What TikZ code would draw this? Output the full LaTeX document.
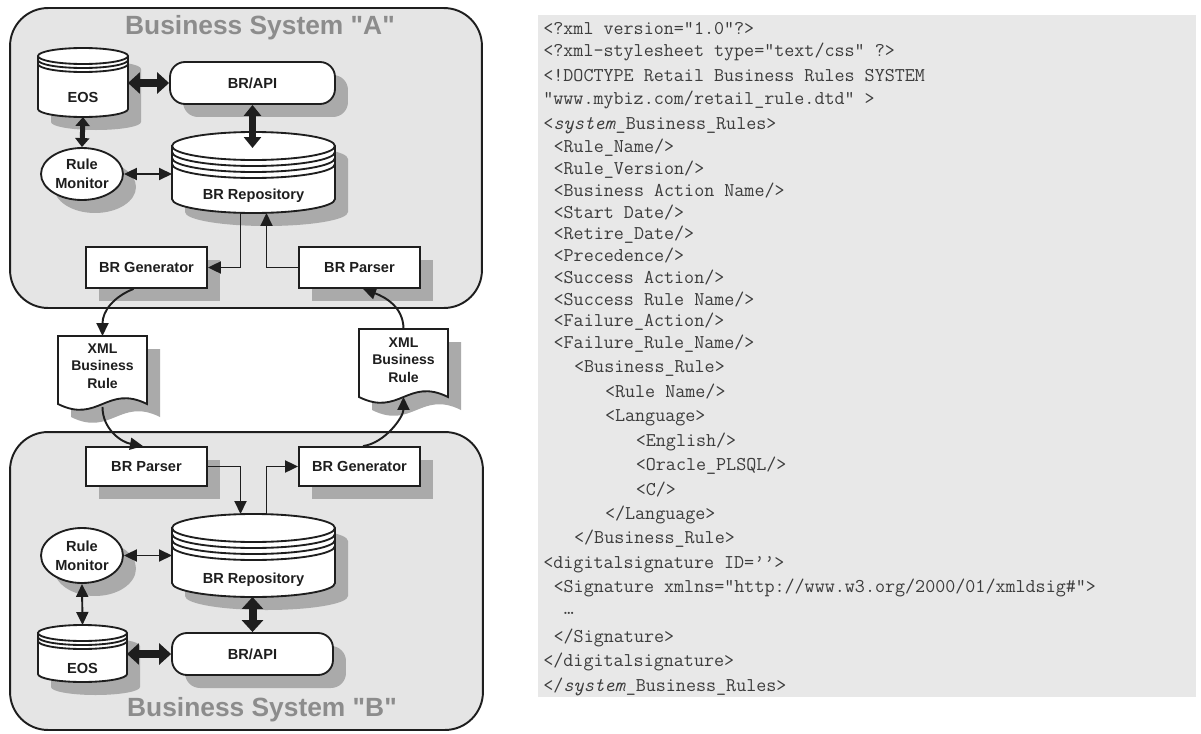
\documentclass[tikz,border=0pt]{standalone}
\usepackage{fontspec}
\newfontfamily\labelfont{Liberation Sans}
\usetikzlibrary{arrows.meta,calc,shapes.geometric,shadows}

\definecolor{panelgray}{RGB}{232,232,232}
\definecolor{sysgray}{RGB}{229,229,229}
\definecolor{shadegray}{RGB}{170,170,170}
\definecolor{titlegray}{RGB}{140,140,140}
\definecolor{ink}{RGB}{30,30,30}
\definecolor{codeink}{RGB}{60,60,60}

% Disk-stack drum: left, right, top, bottom, cap radius, ring gap, ring count
\newcommand\drumshape[7]{%
  \pgfmathsetmacro\drumrx{(#2-#1)/2}%
  \fill[shadegray,shift={(13,13)}] (#1,#3+#5) -- (#1,#4-#5)
    arc[start angle=180,end angle=0,x radius=\drumrx,y radius=#5]
    -- (#2,#3+#5)
    arc[start angle=0,end angle=-180,x radius=\drumrx,y radius=#5] -- cycle;
  \draw[outline,fill=white] (#1,#3+#5) -- (#1,#4-#5)
    arc[start angle=180,end angle=0,x radius=\drumrx,y radius=#5]
    -- (#2,#3+#5)
    arc[start angle=0,end angle=-180,x radius=\drumrx,y radius=#5] -- cycle;
  \draw[outline] (#1,#3+#5) arc[start angle=180,end angle=0,x radius=\drumrx,y radius=#5];
  \foreach \k in {1,...,#7}{%
    \draw[outline] (#1,#3+#5+\k*#6) arc[start angle=180,end angle=0,x radius=\drumrx,y radius=#5];}%
}

% Document sheet with a wavy lower edge: left, right, top, bottom
\newcommand\docshape[4]{%
  \pgfmathsetmacro\docw{#2-#1}%
  \fill[shadegray,shift={(13,13)}] (#1,#3) -- (#2,#3) -- (#2,#4)
    .. controls (#2-0.45*\docw,#4-20) and (#1+0.45*\docw,#4+20) .. (#1,#4) -- cycle;
  \draw[outline,fill=white] (#1,#3) -- (#2,#3) -- (#2,#4)
    .. controls (#2-0.45*\docw,#4-20) and (#1+0.45*\docw,#4+20) .. (#1,#4) -- cycle;
}

\begin{document}
\begin{tikzpicture}[x=0.02cm,y=-0.02cm,
  outline/.style={draw=ink,line width=1.05pt},
  sysbox/.style={rectangle,draw=ink,line width=1.1pt,fill=sysgray,rounded corners=0.76cm,inner sep=0pt},
  systitle/.style={font=\labelfont\bfseries\fontsize{15}{18}\selectfont,text=titlegray,inner sep=0pt},
  lab/.style={font=\labelfont\bfseries\fontsize{8.3}{10.8}\selectfont,text=ink,align=center,inner sep=0pt},
  frame/.style={rectangle,inner sep=0pt,outer sep=0pt},
  castshadow/.style={general shadow={fill=shadegray,shadow xshift=0.26cm,shadow yshift=-0.26cm}},
  procbox/.style={rectangle,outline,fill=white,castshadow,lab,minimum width=2.42cm},
  apibox/.style={rectangle,rounded corners=0.3cm,outline,fill=white,castshadow,lab,minimum height=0.84cm},
  monitor/.style={ellipse,outline,fill=white,castshadow,lab,minimum width=1.64cm},
  conn/.style={draw=ink,line width=1.1pt,>={Triangle[length=0.26cm,width=0.24cm]}},
  fat/.style={draw=ink,line width=0.16cm,{Triangle[length=0.24cm,width=0.42cm]}-{Triangle[length=0.24cm,width=0.42cm]}},
  fatslim/.style={draw=ink,line width=0.1cm,{Triangle[length=0.18cm,width=0.28cm]}-{Triangle[length=0.18cm,width=0.28cm]}},
  codeline/.style={anchor=base west,inner sep=0pt,font=\ttfamily\fontsize{11.1}{13}\selectfont,text=codeink}
]
\useasboundingbox (0,0) rectangle (1201,734);
\fill[white] (0,0) rectangle (1201,734);

% ---------- system frames ----------
\node[sysbox,minimum width=9.44cm,minimum height=6cm] (sysA) at (246,158) {};
\node[sysbox,minimum width=9.46cm,minimum height=5.96cm] (sysB) at (246.5,581) {};
\node[systitle] (titleA) at (260,28) {Business System "A"};
\node[systitle] (titleB) at (262,710) {Business System "B"};

% ---------- system A ----------
\drumshape{38}{128}{48}{117}{8}{4}{2}
\node[frame,minimum width=1.8cm,minimum height=1.38cm] (eosA) at (83,82.5) {};
\node[lab] (eosAtext) at (83,97) {EOS};

\drumshape{172}{335}{132}{213}{14}{6}{3}
\node[frame,minimum width=3.26cm,minimum height=1.62cm] (repoA) at (253.5,172.5) {};
\node[lab] (repoAtext) at (253.5,196) {BR Repository};

\node[apibox,minimum width=3.3cm] (apiA) at (252.5,83) {BR/API};
\node[monitor,minimum height=1.04cm] (monA) at (82,174) {Rule\\Monitor};
\node[procbox,minimum height=0.82cm] (genA) at (146.5,267.5) {BR Generator};
\node[procbox,minimum height=0.82cm] (parserA) at (359.5,267.5) {BR Parser};

% ---------- exchanged documents ----------
\docshape{58}{147}{336}{404}
\node[frame,minimum width=1.78cm,minimum height=1.36cm] (xmlA) at (102.5,370) {};
\node[lab,font=\labelfont\bfseries\fontsize{8}{9.9}\selectfont] (xmlAtext) at (102.5,366) {XML\\Business\\Rule};

\docshape{359}{448}{329}{397}
\node[frame,minimum width=1.78cm,minimum height=1.36cm] (xmlB) at (403.5,363) {};
\node[lab,font=\labelfont\bfseries\fontsize{8}{9.9}\selectfont] (xmlBtext) at (403.5,360) {XML\\Business\\Rule};

% ---------- system B ----------
\drumshape{172}{335}{514}{597}{14}{6}{3}
\node[frame,minimum width=3.26cm,minimum height=1.66cm] (repoB) at (253.5,555.5) {};
\node[lab] (repoBtext) at (253.5,580) {BR Repository};

\drumshape{38}{127}{625}{682}{8}{4}{2}
\node[frame,minimum width=1.78cm,minimum height=1.14cm] (eosB) at (82.5,653.5) {};
\node[lab] (eosBtext) at (82.5,668) {EOS};

\node[apibox,minimum width=3.22cm] (apiB) at (252.5,654) {BR/API};
\node[monitor,minimum height=1.1cm] (monB) at (82,555.5) {Rule\\Monitor};
\node[procbox,minimum height=0.78cm] (parserB) at (146.5,466.5) {BR Parser};
\node[procbox,minimum height=0.78cm] (genB) at (359.5,466.5) {BR Generator};

% ---------- connectors, system A ----------
\coordinate (repoAcap) at ($(repoA.north)+(0,16)$);
\draw[fat] (eosA.east |- apiA.west) -- (apiA.west);
\draw[draw=ink,line width=0.14cm,{Triangle[length=0.22cm,width=0.34cm]}-{Triangle[length=0.22cm,width=0.34cm]}]
  (apiA.south) -- (apiA.south |- repoAcap);
\draw[fatslim] (eosA.south) -- (monA.north);
\draw[conn,<->] (monA.east) -- (monA.east -| repoA.west);
\draw[conn,->] ([xshift=-0.26cm]repoA.south) |- (genA.east);
\draw[conn,->] (parserA.west) -| ([xshift=0.26cm]repoA.south);

% ---------- connectors between systems ----------
\draw[conn,->] ([xshift=-0.26cm]genA.south) .. controls +(-20,8) and +(0,-25) .. (xmlA.north);
\draw[conn,->] ([yshift=-0.06cm]xmlA.south) .. controls +(0,22) and +(-22,-4) .. ([xshift=-0.07cm]parserB.north);
\draw[conn,->] ([xshift=0.07cm]genB.north) .. controls +(22,-3) and +(0,20) .. (xmlB.south);
\draw[conn,->] (xmlB.north) .. controls +(0,-22) and +(22,8) .. ([xshift=0.07cm]parserA.south);

% ---------- connectors, system B ----------
\draw[conn,->] (parserB.east) -| ([xshift=-0.26cm]repoB.north);
\draw[conn,->] ([xshift=0.26cm]repoB.north) |- (genB.west);
\draw[conn,<->] (monB.east) -- (monB.east -| repoB.west);
\draw[conn,<->] (monB.south) -- (eosB.north);
\draw[fat] (eosB.east |- apiB.west) -- (apiB.west);
\draw[fat] (apiB.north |- repoB.south) -- (apiB.north);

% ---------- XML listing ----------
\node[fill=panelgray,minimum width=13.16cm,minimum height=13.64cm,inner sep=0pt] (codepanel) at (867,356) {};
\node[codeline] (c1) at (543,34) {<?xml version="1.0"?>};
\node[codeline] (c2) at (543,56) {<?xml-stylesheet type="text/css" ?>};
\node[codeline] (c3) at (543,81) {<!DOCTYPE Retail Business Rules SYSTEM};
\node[codeline] (c4) at (543,104) {"www.mybiz.com/retail\_rule.dtd" >};
\node[codeline] (c5) at (543,129) {<\textit{system}\_Business\_Rules>};
\node[codeline] (c6) at (553.3,152) {<Rule\_Name/>};
\node[codeline] (c7) at (553.3,174) {<Rule\_Version/>};
\node[codeline] (c8) at (553.3,196) {<Business Action Name/>};
\node[codeline] (c9) at (553.3,218) {<Start Date/>};
\node[codeline] (c10) at (553.3,239) {<Retire\_Date/>};
\node[codeline] (c11) at (553.3,261) {<Precedence/>};
\node[codeline] (c12) at (553.3,283) {<Success Action/>};
\node[codeline] (c13) at (553.3,305) {<Success Rule Name/>};
\node[codeline] (c14) at (553.3,326) {<Failure\_Action/>};
\node[codeline] (c15) at (553.3,348) {<Failure\_Rule\_Name/>};
\node[codeline] (c16) at (573.8,372) {<Business\_Rule>};
\node[codeline] (c17) at (604.7,397) {<Rule Name/>};
\node[codeline] (c18) at (604.7,421) {<Language>};
\node[codeline] (c19) at (635.5,446) {<English/>};
\node[codeline] (c20) at (635.5,470) {<Oracle\_PLSQL/>};
\node[codeline] (c21) at (635.5,495) {<C/>};
\node[codeline] (c22) at (604.7,519) {</Language>};
\node[codeline] (c23) at (573.8,543) {</Business\_Rule>};
\node[codeline] (c24) at (543,568) {<digitalsignature ID=’’>};
\node[codeline] (c25) at (553.3,592) {<Signature xmlns="http://www.w3.org/2000/01/xmldsig\#">};
\node[codeline] (c26) at (563.6,614) {…};
\node[codeline] (c27) at (553.3,642) {</Signature>};
\node[codeline] (c28) at (543,666) {</digitalsignature>};
\node[codeline] (c29) at (543,691) {</\textit{system}\_Business\_Rules>};
\end{tikzpicture}
\end{document}
